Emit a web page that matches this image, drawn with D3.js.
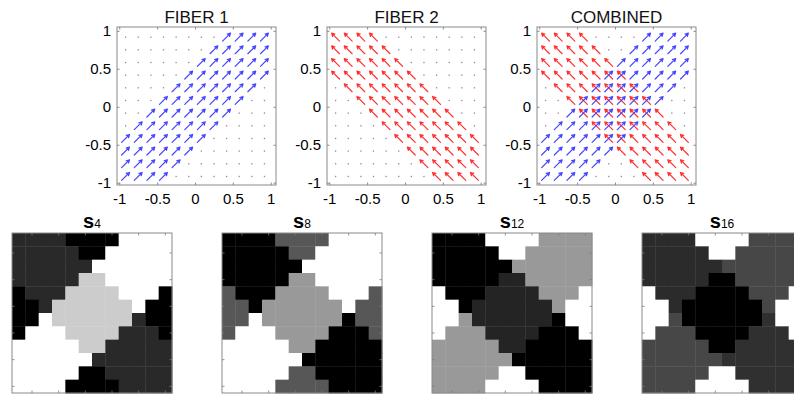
<!DOCTYPE html>
<html>
<head>
<meta charset="utf-8">
<script src="https://cdn.jsdelivr.net/npm/d3@7"></script>
<style>
  html, body { margin: 0; padding: 0; background: #fff; }
  svg { display: block; }
  text { font-family: "Liberation Sans", Arial, Helvetica, sans-serif; }
</style>
</head>
<body>
<svg id="chart" width="794" height="397"></svg>
<script>
// ---------------- DATA ----------------
const quiverTitles = ["FIBER 1", "FIBER 2", "COMBINED"];
const tickValues = [-1, -0.5, 0, 0.5, 1];
const tickLabels = ["-1", "-0.5", "0", "0.5", "1"];
// centres of the 12 x 12 sampling grid
const gridPos = [-0.917, -0.75, -0.583, -0.417, -0.25, -0.083, 0.083, 0.25, 0.417, 0.583, 0.75, 0.917];

// '1' = arrow present (rows listed top to bottom, columns left to right)
const fiber1Mask = [
  "000000001111",
  "000000011111",
  "000000111111",
  "000001111111",
  "000011111110",
  "000111111100",
  "001111111000",
  "011111110000",
  "111111100000",
  "111111000000",
  "111110000000",
  "111100000000"
];
const fiber2Mask = [
  "111100000000",
  "111110000000",
  "111111000000",
  "111111100000",
  "011111110000",
  "001111111000",
  "000111111100",
  "000011111110",
  "000001111111",
  "000000111111",
  "000000011111",
  "000000001111"
];
const fiber1Dir = [1, 1];
const fiber2Dir = [-1, 1];

// region labels of the 12 x 12 images (rows top to bottom)
const regionMap = [
  "AAAANNNNBBBB",
  "AAAAANNBBBBB",
  "AAAAAABBBBBB",
  "AAAAAXXBBBBB",
  "WAAAXXXXBBBE",
  "WWAXXXXXXBEE",
  "WWCXXXXXXDEE",
  "WCCCXXXXDDDE",
  "CCCCCXXDDDDD",
  "CCCCCCDDDDDD",
  "CCCCCSSDDDDD",
  "CCCCSSSSDDDD"
];
const regionKeys = ["A", "B", "C", "D", "X", "N", "S", "W", "E"];
const panelSubscripts = ["4", "8", "12", "16"];
const s4Values  = [0.16, 1.00, 1.00, 0.16, 0.80, 0.00, 0.00, 0.00, 0.00];
const s8Values  = [0.00, 1.00, 1.00, 0.00, 0.60, 0.34, 0.34, 0.34, 0.34];
const s12Values = [0.00, 0.60, 0.60, 0.00, 0.14, 1.00, 1.00, 1.00, 1.00];
const s16Values = [0.17, 0.28, 0.28, 0.19, 0.00, 1.00, 1.00, 1.00, 1.00];
const panelValues = [s4Values, s8Values, s12Values, s16Values];

// ---------------- LAYOUT ----------------
const svg = d3.select("#chart");
svg.append("rect").attr("width", 794).attr("height", 397).attr("fill", "#fff");

const qLeft = [117, 327, 537], qTop = 27, qW = 159, qH = 158;
const frameColor = "#8a8a8a";
const blue = "#4646ff", red = "#ff3030";
const arrowHalf = 0.052;

function drawArrow(g, x, y, cx, cy, dir, color) {
  const x0 = x(cx - dir[0] * arrowHalf), y0 = y(cy - dir[1] * arrowHalf);
  const x1 = x(cx + dir[0] * arrowHalf), y1 = y(cy + dir[1] * arrowHalf);
  const ang = Math.atan2(y1 - y0, x1 - x0);
  const hl = 3.4, ha = 0.5;
  const path = d3.path();
  path.moveTo(x0, y0); path.lineTo(x1, y1);
  path.moveTo(x1 - hl * Math.cos(ang - ha), y1 - hl * Math.sin(ang - ha));
  path.lineTo(x1, y1);
  path.lineTo(x1 - hl * Math.cos(ang + ha), y1 - hl * Math.sin(ang + ha));
  g.append("path").attr("d", path.toString())
    .attr("fill", "none").attr("stroke", color)
    .attr("stroke-width", 1.2).attr("stroke-linecap", "round").attr("stroke-linejoin", "round");
}

quiverTitles.forEach((title, p) => {
  const x = d3.scaleLinear().domain([-1.03, 1.07]).range([qLeft[p], qLeft[p] + qW]);
  const y = d3.scaleLinear().domain([-1.03, 1.05]).range([qTop + qH, qTop]);
  const g = svg.append("g");

  // axes (ticks inside, box on)
  const fmt = (d) => tickLabels[tickValues.indexOf(d)];
  const axB = g.append("g").attr("transform", `translate(0,${qTop + qH})`)
    .call(d3.axisBottom(x).tickValues(tickValues).tickFormat(fmt).tickSize(-2.5).tickPadding(8));
  const axL = g.append("g").attr("transform", `translate(${qLeft[p]},0)`)
    .call(d3.axisLeft(y).tickValues(tickValues).tickFormat(fmt).tickSize(-2.5).tickPadding(6));
  const axT = g.append("g").attr("transform", `translate(0,${qTop})`)
    .call(d3.axisTop(x).tickValues(tickValues).tickFormat("").tickSize(-2.5));
  const axR = g.append("g").attr("transform", `translate(${qLeft[p] + qW},0)`)
    .call(d3.axisRight(y).tickValues(tickValues).tickFormat("").tickSize(-2.5));
  [axB, axL, axT, axR].forEach(a => {
    a.select(".domain").remove();
    a.selectAll(".tick line").attr("stroke", frameColor);
    a.selectAll(".tick text").attr("fill", "#000").attr("font-size", 15)
      .attr("font-family", '"Liberation Sans", Arial, sans-serif');
  });
  g.append("rect").attr("x", qLeft[p]).attr("y", qTop).attr("width", qW).attr("height", qH)
    .attr("fill", "none").attr("stroke", frameColor).attr("stroke-width", 1);

  // title
  g.append("text").attr("x", qLeft[p] + qW / 2).attr("y", 23)
    .attr("text-anchor", "middle").attr("font-size", 17).attr("fill", "#111").text(title);

  // arrows
  for (let j = 0; j < 12; j++) {
    for (let i = 0; i < 12; i++) {
      const cx = gridPos[i], cy = gridPos[11 - j];
      const has1 = (p === 0 || p === 2) && fiber1Mask[j][i] === "1";
      const has2 = (p === 1 || p === 2) && fiber2Mask[j][i] === "1";
      if (has2) drawArrow(g, x, y, cx, cy, fiber2Dir, red);
      if (has1) drawArrow(g, x, y, cx, cy, fiber1Dir, blue);
      if (!has1 && !has2) {
        g.append("rect").attr("x", x(cx) - 0.6).attr("y", y(cy) - 0.6)
          .attr("width", 1.3).attr("height", 1.3).attr("fill", "#8c8c8c");
      }
    }
  }
});

// ---------------- IMAGE PANELS ----------------
const iLeft = [12, 222, 432, 642], iTop = 233, iSize = 160;
const gray = d3.scaleLinear().domain([0, 1]).range(["#000", "#fff"]);
const cellIdx = d3.range(12);

panelValues.forEach((vals, p) => {
  const x = d3.scaleBand().domain(cellIdx).range([iLeft[p], iLeft[p] + iSize]);
  const y = d3.scaleBand().domain(cellIdx).range([iTop, iTop + iSize]);
  const g = svg.append("g");
  const cells = [];
  regionMap.forEach((row, r) => row.split("").forEach((k, c) => cells.push({ r, c, v: vals[regionKeys.indexOf(k)] })));
  g.selectAll("rect.cell").data(cells).join("rect").attr("class", "cell")
    .attr("x", d => x(d.c)).attr("y", d => y(d.r))
    .attr("width", x.bandwidth() + 0.4).attr("height", y.bandwidth() + 0.4)
    .attr("fill", d => gray(d.v));

  // inner ticks at image coords 2,4,...,12
  const tickCells = [1, 3, 5, 7, 9, 11];
  const tl = 2.5;
  tickCells.forEach(t => {
    const tx = x(t) + x.bandwidth() / 2, ty = y(t) + y.bandwidth() / 2;
    [[tx, iTop, tx, iTop + tl], [tx, iTop + iSize, tx, iTop + iSize - tl],
     [iLeft[p], ty, iLeft[p] + tl, ty], [iLeft[p] + iSize, ty, iLeft[p] + iSize - tl, ty]]
      .forEach(s => g.append("line").attr("x1", s[0]).attr("y1", s[1]).attr("x2", s[2]).attr("y2", s[3])
        .attr("stroke", "#777").attr("stroke-width", 0.8));
  });
  g.append("rect").attr("x", iLeft[p]).attr("y", iTop).attr("width", iSize).attr("height", iSize)
    .attr("fill", "none").attr("stroke", frameColor).attr("stroke-width", 1);

  const t = g.append("text").attr("x", iLeft[p] + iSize / 2).attr("y", 228)
    .attr("text-anchor", "middle").attr("fill", "#000");
  t.append("tspan").attr("font-size", 20).attr("font-weight", "bold").text("s");
  t.append("tspan").attr("font-size", 12).text(panelSubscripts[p]);
});
</script>
</body>
</html>
